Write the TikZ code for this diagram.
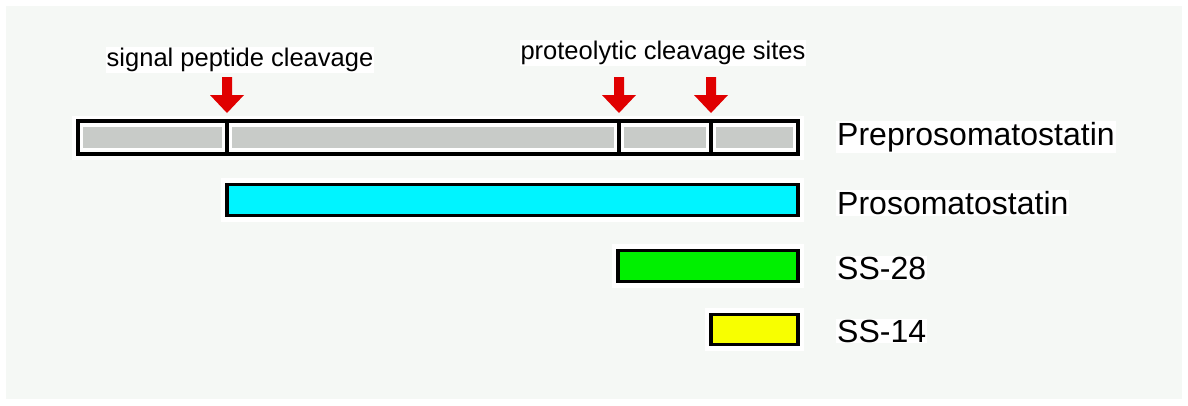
\documentclass[tikz,border=0pt]{standalone}
\usepackage{fontspec}
\setmainfont{Liberation Sans}
\definecolor{bgcol}{HTML}{F5F8F5}
\definecolor{graycol}{HTML}{C8CBC8}
\definecolor{cyancol}{HTML}{00F4FF}
\definecolor{greencol}{HTML}{00F000}
\definecolor{yellowcol}{HTML}{F8FF00}
\definecolor{arrowred}{HTML}{E00000}
\tikzset{
  barbox/.style={draw=black, line width=3.5pt, inner sep=0pt, outer sep=0pt},
  segbox/.style={fill=graycol, draw=none, inner sep=0pt, minimum height=21pt},
  divider/.style={line width=3.5pt, black},
  lbl/.style={anchor=west, inner sep=1pt, font=\fontsize{32}{32}\selectfont},
  toplbl/.style={inner sep=1pt, font=\fontsize{25.5}{25.5}\selectfont},
  halo/.style={fill=white, draw=none}
}
\newcommand\cleavearrow[1]{%
  \fill[arrowred, shift={(#1)}] (-5,-36) -- (5,-36) -- (5,-18) -- (17,-18) -- (0,0) -- (-17,-18) -- (-5,-18) -- cycle;}
\begin{document}
\begin{tikzpicture}[x=1pt,y=-1pt]
\useasboundingbox (0,0) rectangle (1188,405);
\fill[white] (0,0) rectangle (1188,405);
\fill[bgcol] (6,6) rectangle (1182,399);
% white halos
\fill[halo] (72,116) rectangle (804,160);
\fill[halo] (221,178) rectangle (804,222);
\fill[halo] (612,244) rectangle (804,288);
\fill[halo] (705,308) rectangle (804,351);
% Preprosomatostatin bar
\node[barbox, minimum width=720pt, minimum height=33pt] (pre) at (438,137.5) {};
\node[segbox, minimum width=139pt] (s1) at (152.5,137.5) {};
\node[segbox, minimum width=382pt] (s2) at (423,137.5) {};
\node[segbox, minimum width=82pt] (s3) at (665,137.5) {};
\node[segbox, minimum width=77pt] (s4) at (754.5,137.5) {};
\coordinate (d1) at (227,121);
\coordinate (d2) at (619,121);
\coordinate (d3) at (711,121);
\draw[divider] (d1) -- (d1 |- pre.south);
\draw[divider] (d2) -- (d2 |- pre.south);
\draw[divider] (d3) -- (d3 |- pre.south);
% other bars
\node[barbox, fill=cyancol, minimum width=571pt, minimum height=31pt] (pro) at (512.5,200) {};
\node[barbox, fill=greencol, minimum width=180pt, minimum height=31pt] (ss28) at (708,266) {};
\node[barbox, fill=yellowcol, minimum width=87pt, minimum height=30pt] (ss14) at (754.5,329.5) {};
% arrows
\coordinate (a1) at (227,113);
\coordinate (a2) at (619,113);
\coordinate (a3) at (711,113);
\cleavearrow{a1}
\cleavearrow{a2}
\cleavearrow{a3}
% labels
\node[toplbl, fill=white] (sig) at (240,60) {signal peptide cleavage};
\node[toplbl, fill=white] (prot) at (663,53) {proteolytic cleavage sites};
\node[lbl, fill=white] (lpre) at (836,137) {Preprosomatostatin};
\node[lbl, fill=white] (lpro) at (836,203) {Prosomatostatin};
\node[lbl, fill=white] (l28) at (836,268) {SS-28};
\node[lbl, fill=white] (l14) at (836,331) {SS-14};
\end{tikzpicture}
\end{document}
